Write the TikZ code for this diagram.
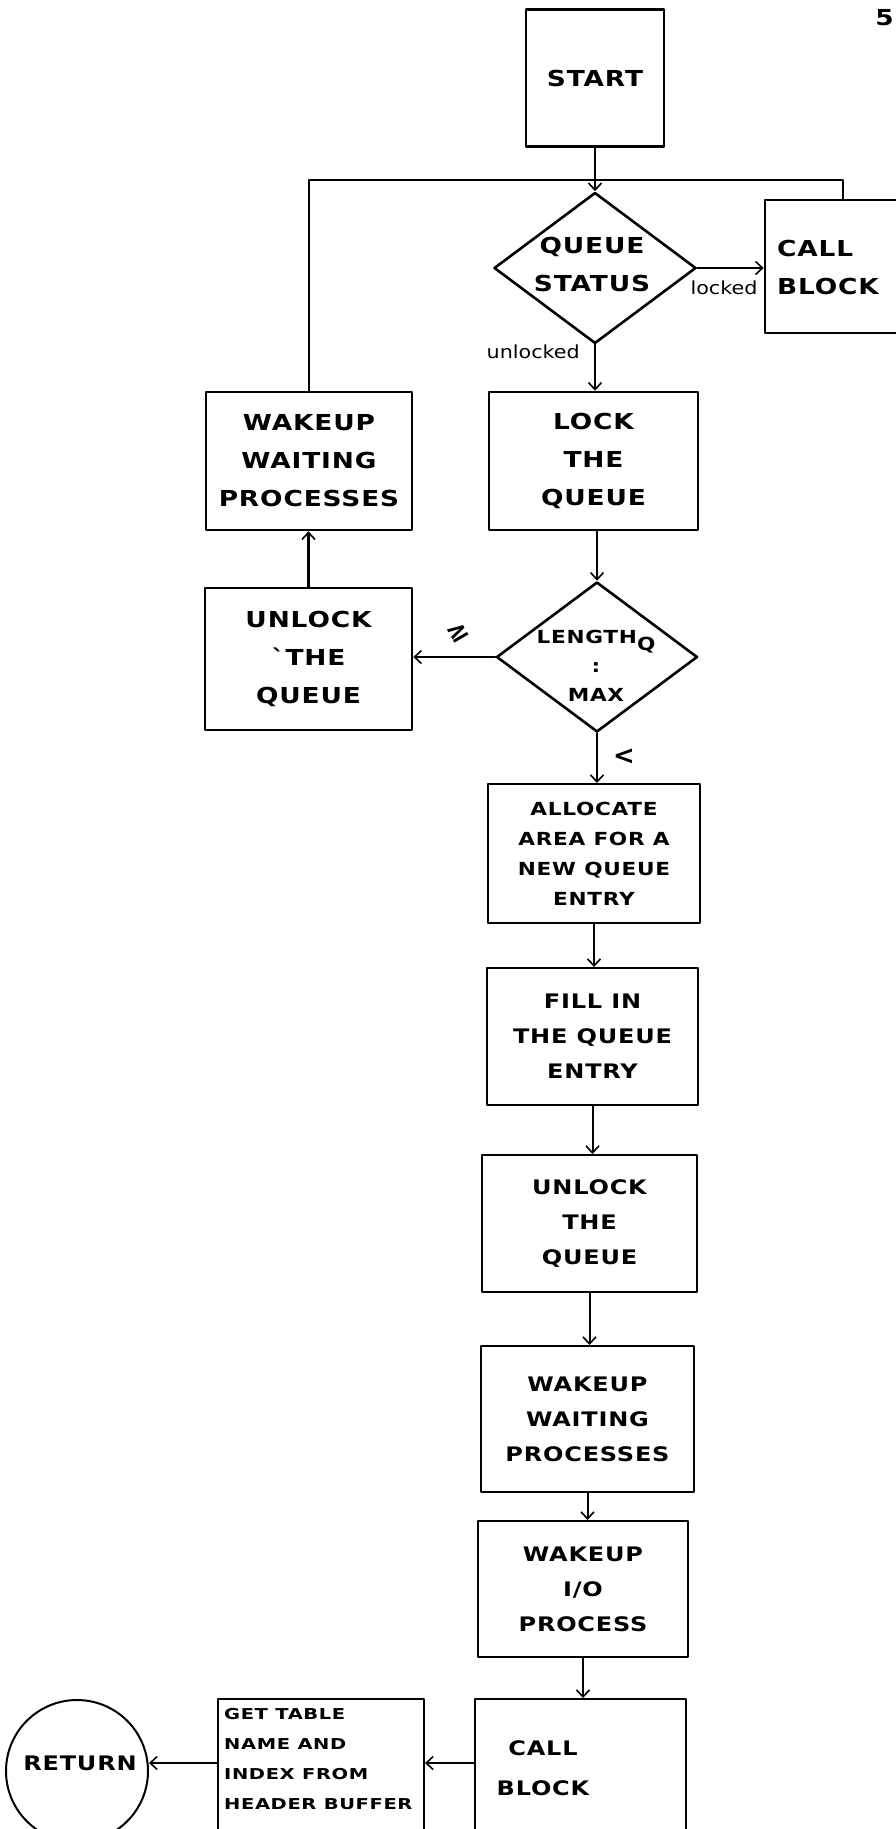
\documentclass[tikz,border=0pt]{standalone}
\usepackage{graphicx}
\usepackage{fontspec}
\usetikzlibrary{shapes.geometric,arrows.meta}
\newfontfamily\hand{DejaVu Sans Bold}[FakeStretch=1.2,LetterSpace=4]
\newfontfamily\handw{DejaVu Sans Bold}[FakeStretch=1.3,LetterSpace=4]
\newfontfamily\handl{DejaVu Sans}[FakeStretch=1.15]
\newfontfamily\symf{DejaVu Sans Bold}
\begin{document}
\begin{tikzpicture}[x=1pt,y=-1pt,
  >={Straight Barb[length=7pt,width=13pt,line width=1.6pt]},
  line cap=round, line join=round,
  box/.style={draw, line width=2.6pt, inner sep=0pt, align=center, font=\hand\fontsize{22}{38}\selectfont},
  lbox/.style={box, line width=2pt, font=\hand\fontsize{20}{35}\selectfont},
  dia/.style={draw, diamond, line width=2.6pt, inner sep=0pt},
  txt/.style={inner sep=0pt, align=center, font=\hand\fontsize{22}{38}\selectfont},
  flow/.style={line width=2.6pt},
  lflow/.style={line width=2pt},
  lab/.style={inner sep=0pt, font=\handl\fontsize{18}{20}\selectfont},
  sym/.style={inner sep=0pt, font=\symf\fontsize{26}{26}\selectfont},
]
\useasboundingbox (0,0) rectangle (895,1829);

% page mark
\node[txt, anchor=east] (pg) at (894,18) {5};

% top part
\node[box, minimum width=138pt, minimum height=137pt] (start) at (595,78) {START};
\coordinate (J) at (595,180);
\node[dia, minimum width=202pt, minimum height=151pt] (qs) at (595,268) {};
\node[txt] (qst) at (592,264) {QUEUE\\STATUS};
\node[box, minimum width=156pt, minimum height=133pt] (cb) at (843,266.5) {};
\node[txt, align=left] (cbt) at (828,267) {CALL\\BLOCK};
\node[lab] (locked) at (724,288) {locked};
\node[lab, anchor=east] (unlocked) at (580,352) {unlocked};

\node[box, minimum width=206pt, minimum height=138pt] (wl) at (309,461) {WAKEUP\\WAITING\\PROCESSES};
\node[box, minimum width=209pt, minimum height=138pt] (lock) at (593.5,461) {LOCK\\THE\\QUEUE};
\node[dia, minimum width=201pt, minimum height=150pt] (len) at (597,657) {};
\node[txt, font=\hand\fontsize{18}{29}\selectfont] (lent) at (596,666) {LENGTH\raisebox{-7pt}{Q}\\:\\MAX};
\node[box, minimum width=207pt, minimum height=142pt] (ul) at (308.5,659) {UNLOCK\\`THE\\QUEUE};
\node[sym] (ge) at (458,632) {\rotatebox{30}{≥}};
\node[sym] (lt) at (624,757) {<};

% lower column
\node[lbox, minimum width=212pt, minimum height=139pt, font=\hand\fontsize{18}{30}\selectfont] (alloc) at (594,853.5) {ALLOCATE\\AREA FOR A\\NEW QUEUE\\ENTRY};
\node[lbox, minimum width=211pt, minimum height=137pt] (fill) at (592.5,1036.5) {FILL IN\\THE QUEUE\\ENTRY};
\node[lbox, minimum width=215pt, minimum height=137pt] (unr) at (589.5,1223.5) {UNLOCK\\THE\\QUEUE};
\node[lbox, minimum width=213pt, minimum height=146pt] (wr) at (587.5,1419) {WAKEUP\\WAITING\\PROCESSES};
\node[lbox, minimum width=210pt, minimum height=136pt] (io) at (583,1589) {WAKEUP\\I/O\\PROCESS};
\node[lbox, minimum width=211pt, minimum height=151pt] (cbb) at (580.5,1774.5) {};
\node[txt, font=\hand\fontsize{20}{40}\selectfont] (cbbt) at (543,1768) {CALL\\BLOCK};
\node[lbox, minimum width=206pt, minimum height=151pt] (gt) at (321,1774.5) {};
\node[txt, anchor=north west, align=left, font=\handw\fontsize{15}{30}\selectfont] (gtt) at (224,1708) {GET TABLE\\NAME AND\\INDEX FROM\\HEADER BUFFER};
\node[draw, circle, line width=2pt, minimum size=142pt, inner sep=0pt] (ret) at (77,1771) {};
\node[txt, font=\hand\fontsize{20}{22}\selectfont] (rett) at (80,1763) {RETURN};
\coordinate (ay) at (0,1763);

% connectors, top
\draw[flow] (start.south) -- (J);
\draw[flow] (wl.north) |- (J);
\draw[flow] (cb.north) |- (J);
\draw[flow,->] (J) -- (qs.north);
\draw[flow,->] (qs.east) -- (qs.east -| cb.west);
\draw[flow,->] (qs.south) -- (qs.south |- lock.north);
\draw[flow,->] (len.north |- lock.south) -- (len.north);
\draw[flow,->] (len.west) -- (len.west -| ul.east);
\draw[flow,->] (ul.north) -- (ul.north |- wl.south);
% connectors, lower
\draw[lflow,->] (len.south) -- (len.south |- alloc.north);
\draw[lflow,->] (alloc.south) -- (alloc.south |- fill.north);
\draw[lflow,->] (fill.south) -- (fill.south |- unr.north);
\draw[lflow,->] (unr.south) -- (unr.south |- wr.north);
\draw[lflow,->] (wr.south) -- (wr.south |- io.north);
\draw[lflow,->] (io.south) -- (io.south |- cbb.north);
\draw[lflow,->] (cbb.west |- ay) -- (gt.east |- ay);
\draw[lflow,->] (gt.west |- ay) -- (ret.east |- ay);
\end{tikzpicture}
\end{document}
